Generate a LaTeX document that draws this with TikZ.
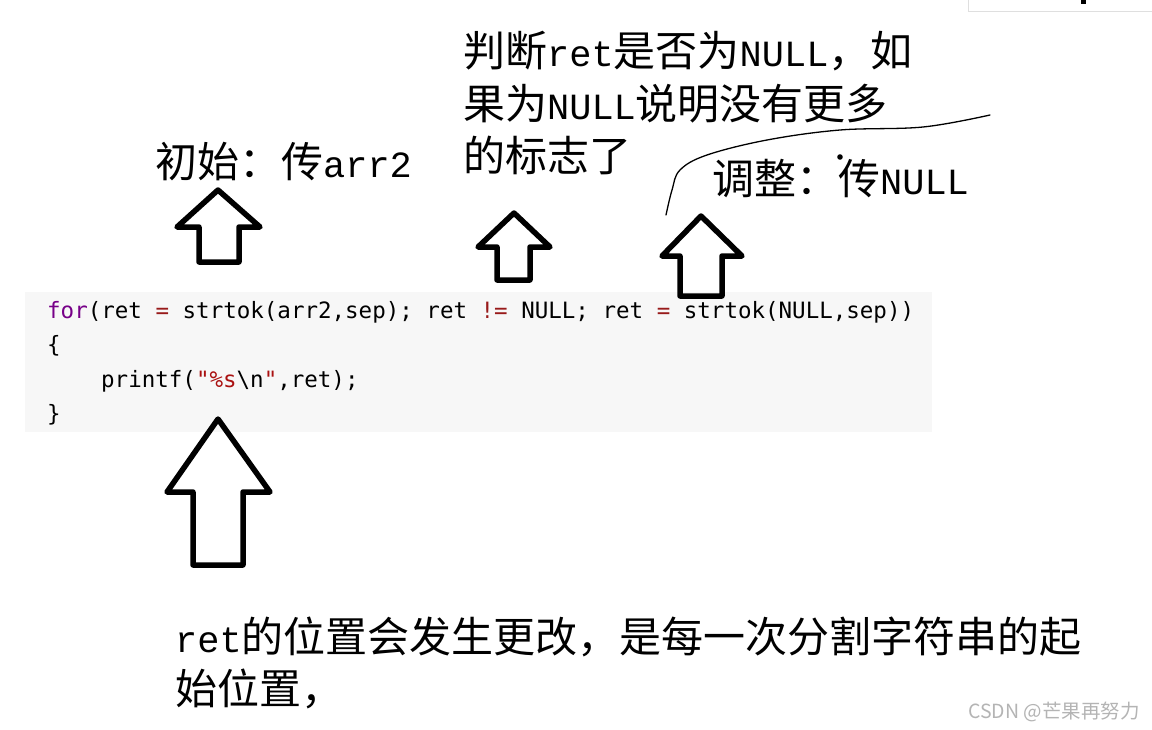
\documentclass[tikz,border=0pt]{standalone}
\usepackage{fontspec}
\newfontfamily\cjk{Noto Sans CJK SC}
\newfontfamily\latin[Scale=0.88]{Liberation Mono}
\newfontfamily\codefont{DejaVu Sans Mono}
\usetikzlibrary{positioning}
\definecolor{codebg}{HTML}{F7F7F7}
\definecolor{kwpurple}{HTML}{770088}
\definecolor{opred}{HTML}{981A1A}
\definecolor{strred}{HTML}{AA1111}
\definecolor{markgray}{HTML}{B4B4B4}
\tikzset{
  lbl/.style={anchor=base west,inner sep=0pt,font=\cjk\fontsize{42}{52}\selectfont},
  codeline/.style={anchor=base west,inner sep=0pt,font=\codefont\fontsize{22.5}{34}\selectfont},
  blockarrow/.style={draw=black,line width=5.5pt,line join=round}
}

\begin{document}
\begin{tikzpicture}[x=1pt,y=-1pt]
        \useasboundingbox[fill=white] (0,0) rectangle (1152,729);
        % window chrome, top right
        \draw[fill=white,draw=gray!25] (968,-2) rectangle (1153,11);
        \fill[black] (1081,0) rectangle (1086,4);
        % code block
        \fill[codebg] (25,292) rectangle (932,432);
        \node[codeline] (forline) at (47,318) {\textcolor{kwpurple}{for}(ret \textcolor{opred}{=} strtok(arr2,sep); ret \textcolor{opred}{!=} NULL; ret \textcolor{opred}{=} strtok(NULL,sep))};
        \node[codeline] (lbrace) at (47,352.5) {\{};
        \node[codeline] (printline) at (101,387) {printf(\textcolor{strred}{"\%s}\textbackslash n\textcolor{strred}{"},ret);};
        \node[codeline] (rbrace) at (47,421.5) {\}};
        % block arrows
        \draw[blockarrow] (218,190) -- (260,227) -- (239,227) -- (239,262)
          -- (199,262) -- (199,227) -- (177,227) -- cycle;
        \draw[blockarrow] (514,213) -- (550,247) -- (530,247) -- (530,280)
          -- (497,280) -- (497,247) -- (478,247) -- cycle;
        \draw[blockarrow] (701,216) -- (742,256) -- (722,256) -- (722,296)
          -- (680,296) -- (680,256) -- (662,256) -- cycle;
        \draw[blockarrow] (218,419) -- (270,492) -- (243,492) -- (243,565)
          -- (193,565) -- (193,492) -- (167,492) -- cycle;
        % labels
        \node[lbl] (initlbl) at (155,177) {初始：传{\latin arr2}};
        \node[lbl] (testlbl1) at (463,66) {判断{\latin ret}是否为{\latin NULL}，如};
        \node[lbl] (testlbl2) at (463,119) {果为{\latin NULL}说明没有更多};
        \node[lbl] (testlbl3) at (463,171) {的标志了};
        \node[lbl] (steplbl) at (712,194) {调整：传{\latin NULL}};
        \node[lbl] (retlbl1) at (175,652) {{\latin ret}的位置会发生更改，是每一次分割字符串的起};
        \node[lbl] (retlbl2) at (175,704) {始位置，};
        % hand-drawn stroke
        \draw[line width=1.3pt,line cap=round] plot[smooth,tension=0.6] coordinates
          {(666,215) (672,190) (680,170) (707,155) (767,140) (840,130) (923,127) (990,115)};
        \fill[black] (840,157) circle (2.8);
        % watermark
        \node[anchor=base west,inner sep=0pt,text=markgray,font=\cjk\fontsize{19.5}{22}\selectfont] (mark) at (968,718) {CSDN @芒果再努力};
      \end{tikzpicture}
\end{document}
